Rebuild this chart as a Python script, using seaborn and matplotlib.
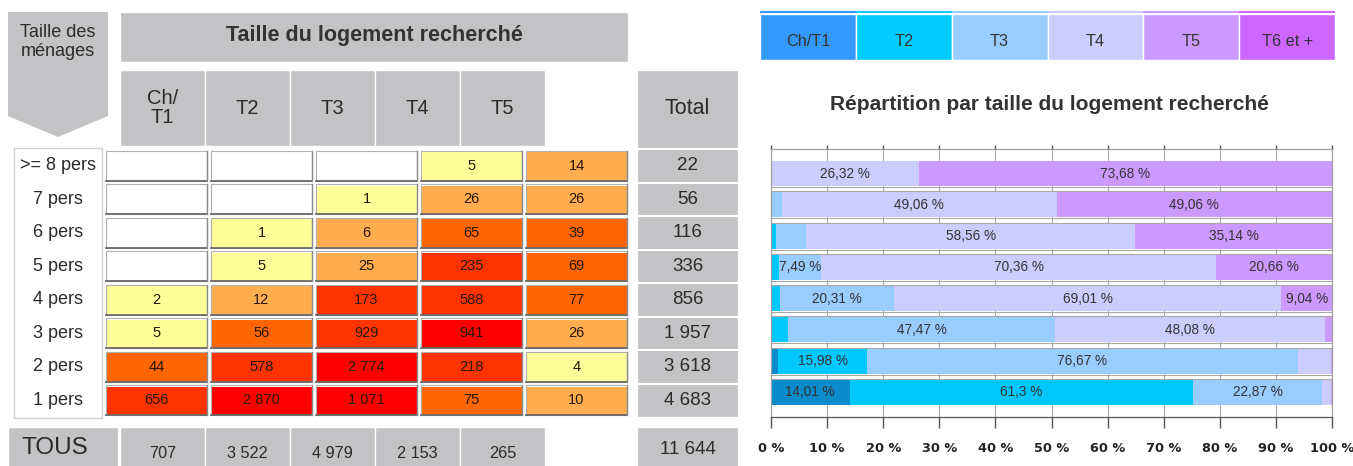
"""
Demande de logement : taille des ménages x taille du logement recherché.
Tableau croisé (heatmap) à gauche, répartition en % à droite.
"""

import numpy as np
import pandas as pd
import matplotlib
matplotlib.use("Agg")
import matplotlib.pyplot as plt
from matplotlib.colors import ListedColormap, BoundaryNorm
from matplotlib.patches import Rectangle, Polygon
import seaborn as sns

plt.rcParams["font.family"] = ["Liberation Sans", "DejaVu Sans"]

# data -------------------------------------------------------------------------
household_sizes = [">= 8 pers", "7 pers", "6 pers", "5 pers", "4 pers", "3 pers", "2 pers", "1 pers"]
housing_cols = ["Ch/T1", "T2", "T3", "T4", "T5"]
header_labels = ["Ch/\nT1", "T2", "T3", "T4", "T5"]
ch_t1 = [np.nan, np.nan, np.nan, np.nan, 2, 5, 44, 656]
t2 = [np.nan, np.nan, 1, 5, 12, 56, 578, 2870]
t3 = [np.nan, 1, 6, 25, 173, 929, 2774, 1071]
t4 = [5, 26, 65, 235, 588, 941, 218, 75]
t5 = [14, 26, 39, 69, 77, 26, 4, 10]
row_totals = [22, 56, 116, 336, 856, 1957, 3618, 4683]
col_totals = [707, 3522, 4979, 2153, 265]
grand_total = 11644
legend_labels = ["Ch/T1", "T2", "T3", "T4", "T5", "T6 et +"]

# styles -----------------------------------------------------------------------
GREY = "#c3c2c5"
TXT = "#2b2b2b"
legend_colors = ["#3399ff", "#00ccff", "#99ccff", "#ccccff", "#cc99ff", "#cc66ff"]
bar_colors = ["#0a8ccc", "#00c8ff", "#99ccff", "#ccccff", "#cc99ff"]
heat_colors = ["#ffff99", "#ffad4f", "#ff6600", "#ff3300", "#ff0000"]
heat_bounds = [0.5, 5.5, 30.5, 100.5, 935, 100000]

W, H = 1353, 466
fig = plt.figure(figsize=(W / 100, H / 100), dpi=100)


def px_axes(x0, y0, x1, y1):
    return fig.add_axes([x0 / W, 1 - y1 / H, (x1 - x0) / W, (y1 - y0) / H])


def fmt_int(v):
    return f"{int(v):,}".replace(",", " ")


def fmt_pct(p):
    s = f"{p:.2f}".rstrip("0").rstrip(".")
    return s.replace(".", ",") + " %"


# background layer (pixel coords) ----------------------------------------------
bg = fig.add_axes([0, 0, 1, 1])
bg.set_xlim(0, W)
bg.set_ylim(H, 0)
bg.axis("off")


def box(x0, y0, x1, y1, fc=GREY, ec="white", lw=1):
    bg.add_patch(Rectangle((x0, y0), x1 - x0, y1 - y0, fc=fc, ec=ec, lw=lw))


TOP, BOT = 149, 417
pitch = (BOT - TOP) / len(household_sizes)

# "Taille des ménages" arrow
bg.add_patch(Polygon([(8, 12), (108, 12), (108, 116), (58, 137), (8, 116)], fc=GREY, ec="none"))
bg.text(58, 42, "Taille des\nménages", ha="center", va="center", fontsize=13,
        color=TXT, linespacing=1.1)

# main header
box(120, 12, 628, 62)
bg.text(374, 36, "Taille du logement recherché", ha="center", va="center",
        fontsize=15.5, fontweight="bold", color="#333333")

# column headers
for j, lab in enumerate(header_labels):
    box(120 + 85 * j, 70, 205 + 85 * j, 146)
    bg.text(162.5 + 85 * j, 108, lab, ha="center", va="center", fontsize=14.5,
            color=TXT, linespacing=1.05)

# total column
box(637, 70, 738, BOT)
bg.text(687.5, 108, "Total", ha="center", va="center", fontsize=15.5, color=TXT)
for i, tot in enumerate(row_totals):
    bg.plot([637, 738], [TOP + pitch * i, TOP + pitch * i], color="white", lw=1.5)
    bg.text(687.5, TOP + pitch * (i + 0.5), fmt_int(tot), ha="center", va="center",
            fontsize=13.5, color=TXT)

# row labels
box(14, 148, 102, 418, fc="white", ec="#d0d0d0")
for i, lab in enumerate(household_sizes):
    bg.text(58, TOP + pitch * (i + 0.5), lab, ha="center", va="center",
            fontsize=13, color=TXT)

# bottom line "TOUS"
box(8, 427, 118, 472)
bg.text(55, 448, "TOUS", ha="center", va="center", fontsize=17.5, color=TXT)
for j, tot in enumerate(col_totals):
    box(120 + 85 * j, 427, 205 + 85 * j, 472)
    bg.text(162.5 + 85 * j, 453, fmt_int(tot), ha="center", va="center",
            fontsize=11.7, color=TXT)
box(637, 427, 738, 472)
bg.text(687.5, 450, fmt_int(grand_total), ha="center", va="center", fontsize=13.5, color=TXT)

# legend strip
lw_ = 575 / len(legend_labels)
for j, (lab, c) in enumerate(zip(legend_labels, legend_colors)):
    x0 = 760 + lw_ * j
    box(x0, 14, x0 + lw_, 60, fc=c, ec="white", lw=1)
    bg.plot([x0 + 1, x0 + lw_ - 1], [12, 12], color=c, lw=1.5)
    bg.text(x0 + lw_ / 2, 42, lab, ha="center", va="center", fontsize=11.7, color="#333333")

bg.text(1049, 105, "Répartition par taille du logement recherché", ha="center",
        va="center", fontsize=15, fontweight="bold", color="#333333")

# heatmap ----------------------------------------------------------------------
table = pd.DataFrame({"Ch/T1": ch_t1, "T2": t2, "T3": t3, "T4": t4, "T5": t5},
                     index=household_sizes)[housing_cols]
annot = table.map(lambda v: "" if pd.isna(v) else fmt_int(v))

ax_hm = px_axes(104, TOP, 629, BOT)
sns.heatmap(table, ax=ax_hm, cmap=ListedColormap(heat_colors),
            norm=BoundaryNorm(heat_bounds, len(heat_colors)),
            annot=annot, fmt="", cbar=False, linewidths=2.2, linecolor="white",
            xticklabels=False, yticklabels=False,
            annot_kws={"fontsize": 10.5, "color": "#2a1608"})
dx, dy = 0.016, 0.05
for i in range(len(household_sizes)):
    for j in range(len(housing_cols)):
        ax_hm.add_patch(Rectangle((j + dx, i + dy), 1 - 2 * dx, 1 - 2 * dy, fill=False,
                                  ec="#b0b0b0", lw=0.8))
        ax_hm.plot([j + dx, j + 1 - dx], [i + 1 - dy, i + 1 - dy], color="#6a6a6a", lw=1.3)
        ax_hm.plot([j + 1 - dx, j + 1 - dx], [i + dy, i + 1 - dy], color="#8a8a8a", lw=1)
ax_hm.set_xlabel("")
ax_hm.set_ylabel("")

# stacked percentage bars ------------------------------------------------------
share = table.fillna(0)
share = share.div(share.sum(axis=1), axis=0) * 100
cum = share.cumsum(axis=1)

ax = px_axes(771, TOP, 1332, BOT)
for k in reversed(range(len(housing_cols))):
    sns.barplot(x=cum.iloc[:, k].values, y=household_sizes, color=bar_colors[k],
                saturation=1, width=0.8, orient="h", edgecolor="none", linewidth=0,
                ax=ax, zorder=2)

for i in range(len(household_sizes)):
    for k in range(len(housing_cols)):
        p = share.iloc[i, k]
        if p >= 7:
            ax.text(cum.iloc[i, k] - p / 2, i, fmt_pct(p), ha="center", va="center",
                    fontsize=9.8, color="#333333", zorder=4)

for i in range(len(household_sizes) - 1):
    ax.hlines([i + 0.43, i + 0.57], 0, 100, color="#a8a8a8", lw=0.8, zorder=3)

ax.set_xlim(0, 100)
ax.set_xticks(range(0, 101, 10))
ax.set_xticklabels([f"{v} %" for v in range(0, 101, 10)], fontsize=9.3,
                   fontweight="bold", family="DejaVu Sans", color="#222222")
ax.grid(axis="x", color="#a8a8a8", lw=0.8)
ax.set_axisbelow(True)
ax.set_yticks([])
ax.set_xlabel("")
ax.set_ylabel("")
for s in ax.spines.values():
    s.set_color("#a0a0a0")
    s.set_linewidth(0.9)
ax.spines["bottom"].set_color("#555555")
ax.tick_params(axis="x", top=True, length=8, width=1, color="#555555", pad=10)
for t in ax.xaxis.get_major_ticks():
    t.tick2line.set_markersize(3)
    t.tick2line.set_color("#a0a0a0")

fig.savefig("out.png", dpi=100)
